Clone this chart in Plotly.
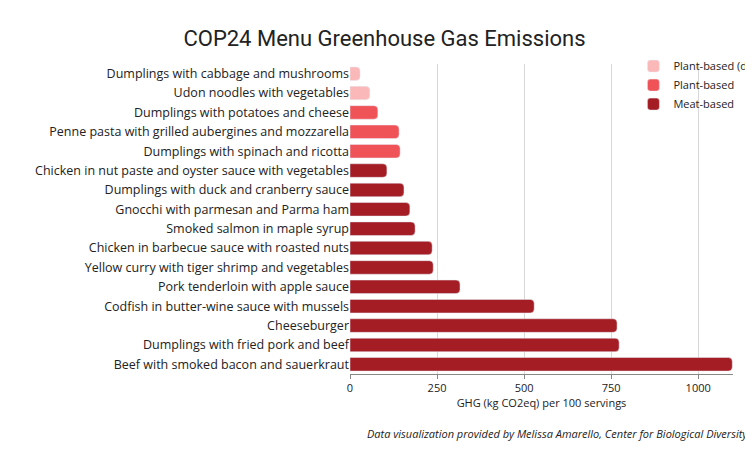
import plotly.graph_objects as go

dishes = [
    "Dumplings with cabbage and mushrooms",
    "Udon noodles with vegetables",
    "Dumplings with potatoes and cheese",
    "Penne pasta with grilled aubergines and mozzarella",
    "Dumplings with spinach and ricotta",
    "Chicken in nut paste and oyster sauce with vegetables",
    "Dumplings with duck and cranberry sauce",
    "Gnocchi with parmesan and Parma ham",
    "Smoked salmon in maple syrup",
    "Chicken in barbecue sauce with roasted nuts",
    "Yellow curry with tiger shrimp and vegetables",
    "Pork tenderloin with apple sauce",
    "Codfish in butter-wine sauce with mussels",
    "Cheeseburger",
    "Dumplings with fried pork and beef",
    "Beef with smoked bacon and sauerkraut",
]
ghg = [29, 57, 80, 141, 144, 106, 155, 172, 187, 236, 239, 316, 529, 767, 773, 1098]
diet = ["vegan", "vegan", "veg", "veg", "veg"] + ["meat"] * 11

groups = [
    ("vegan", "Plant-based (dairy-free)", "#fbb8b8"),
    ("veg", "Plant-based", "#ef5358"),
    ("meat", "Meat-based", "#a51d24"),
]

fig = go.Figure()
for key, name, color in groups:
    idx = [i for i, d in enumerate(diet) if d == key]
    fig.add_trace(go.Bar(
        x=[ghg[i] for i in idx],
        y=[dishes[i] for i in idx],
        orientation="h",
        name=name,
        marker=dict(color=color),
    ))

fig.update_layout(
    width=753, height=450,
    font=dict(family="Open Sans", size=12, color="#222"),
    title=dict(text="COP24 Menu Greenhouse Gas Emissions", x=0.5, y=0.95,
               xanchor="center", font=dict(family="Liberation Sans Narrow, Roboto", size=22)),
    margin=dict(l=342, r=28, t=56, b=84, autoexpand=False),
    plot_bgcolor="white", paper_bgcolor="white",
    bargap=0.3, barcornerradius=4,
    legend=dict(x=0.74, y=1.04, xanchor="left", yanchor="top",
                font=dict(size=11), itemwidth=30, tracegroupgap=10,
                bgcolor="rgba(0,0,0,0)"),
    xaxis=dict(range=[0, 1100], tickvals=[0, 250, 500, 750, 1000],
               showgrid=True, gridcolor="#d8d8d8", zeroline=False,
               showline=True, linecolor="#888", ticks="outside", ticklen=4,
               tickcolor="#888", tickfont=dict(size=11),
               title=dict(text="GHG (kg CO2eq) per 100 servings", font=dict(size=11), standoff=4)),
    yaxis=dict(categoryorder="array", categoryarray=dishes[::-1],
               showgrid=False, ticks="", tickfont=dict(size=12.5), automargin=False),
)
fig.add_annotation(
    text="<i>Data visualization provided by Melissa Amarello, Center for Biological Diversity.</i>",
    xref="paper", yref="paper", x=1.05, y=-0.16, xanchor="right", yanchor="top",
    showarrow=False, font=dict(size=11),
)
fig.write_html("out.html")
